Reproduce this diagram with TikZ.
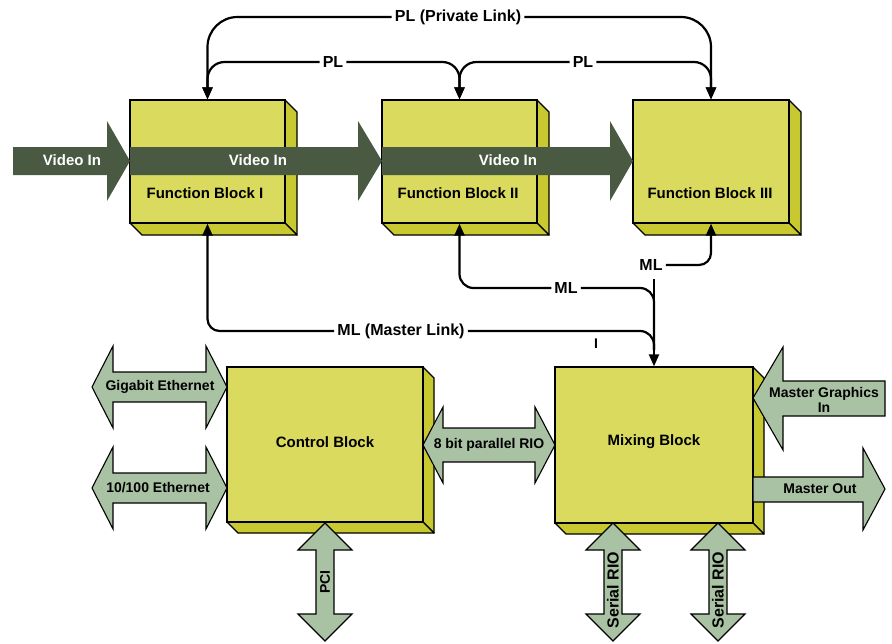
\documentclass[tikz,border=0pt]{standalone}
\usepackage{fontspec}
\setmainfont{Liberation Sans}
\usetikzlibrary{arrows.meta}

\definecolor{facecol}{HTML}{DADA5E}
\definecolor{sidecol}{HTML}{C8C830}
\definecolor{lgreen}{HTML}{AAC2A4}
\definecolor{dgreen}{HTML}{4A5A42}

\tikzset{
  blockface/.style={draw=black, line width=1.3pt, fill=facecol, inner sep=0pt},
  blockside/.style={draw=black, line width=1.3pt, fill=sidecol, line join=round},
  conn/.style={draw=black, line width=2.2pt},
  tip/.style={-{Triangle[length=12pt,width=10pt]}},
  linklbl/.style={font=\fontsize{16}{18}\selectfont\bfseries, inner sep=3pt},
  blocklbl/.style={font=\fontsize{15}{17}\selectfont\bfseries},
  portlbl/.style={font=\fontsize{14}{15}\selectfont\bfseries, align=center},
  riolbl/.style={font=\fontsize{16}{16}\selectfont\bfseries, rotate=90},
  biglink/.style={fill=lgreen, draw=black, line width=1.1pt, line join=miter},
  vidlink/.style={fill=dgreen},
  vidlbl/.style={font=\fontsize{15}{17}\selectfont\bfseries, text=white},
}

% 3-D block: name, x1, y1, x2, y2, depth
\newcommand{\blockbox}[6]{%
  \draw[blockside] (#4,#3) -- ({#4+#6},{#3+#6}) -- ({#4+#6},{#5+#6}) -- (#4,#5) -- cycle;
  \draw[blockside] (#2,#5) -- (#4,#5) -- ({#4+#6},{#5+#6}) -- ({#2+#6},{#5+#6}) -- cycle;
  \node[blockface, minimum width={#4-#2}, minimum height={#5-#3}] (#1)
    at ({(#2+#4)/2},{(#3+#5)/2}) {};
}

% horizontal double arrow: x1, x2, yc, shaft half, head half, head length
\newcommand{\hdouble}[6]{%
  \draw[biglink] (#1,#3) -- ({#1+#6},{#3-#5}) -- ({#1+#6},{#3-#4}) -- ({#2-#6},{#3-#4})
    -- ({#2-#6},{#3-#5}) -- (#2,#3) -- ({#2-#6},{#3+#5}) -- ({#2-#6},{#3+#4})
    -- ({#1+#6},{#3+#4}) -- ({#1+#6},{#3+#5}) -- cycle;
}

% vertical double arrow: y1, y2, xc, shaft half, head half, head length
\newcommand{\vdouble}[6]{%
  \draw[biglink] (#3,#1) -- ({#3+#5},{#1+#6}) -- ({#3+#4},{#1+#6}) -- ({#3+#4},{#2-#6})
    -- ({#3+#5},{#2-#6}) -- (#3,#2) -- ({#3-#5},{#2-#6}) -- ({#3-#4},{#2-#6})
    -- ({#3-#4},{#1+#6}) -- ({#3-#5},{#1+#6}) -- cycle;
}

% video stream arrow: x1, tip x, yc, shaft half, head half, head length
\newcommand{\vidarrow}[6]{%
  \fill[vidlink] (#1,{#3-#4}) -- ({#2-#6},{#3-#4}) -- ({#2-#6},{#3-#5}) -- (#2,#3)
    -- ({#2-#6},{#3+#5}) -- ({#2-#6},{#3+#4}) -- (#1,{#3+#4}) -- cycle;
}

\begin{document}
\begin{tikzpicture}[x=1pt, y=-1pt]
\useasboundingbox (0,0) rectangle (892,643);

% ---- function blocks ----
\blockbox{fb1}{130}{100}{285}{223}{12}
\blockbox{fb2}{382}{100}{537}{223}{12}
\blockbox{fb3}{633}{100}{789}{223}{12}

% ---- video stream ----
\vidarrow{13}{130}{161}{14}{40}{23}
\vidarrow{130}{382}{161}{14}{40}{24}
\vidarrow{382}{633}{161}{14}{40}{23}
\node[vidlbl] (v0) at (72,160) {Video In};
\node[vidlbl] (v1) at (258,160) {Video In};
\node[vidlbl] (v2) at (508,160) {Video In};

\node[blocklbl] (fb1l) at (205,193) {Function Block I};
\node[blocklbl] (fb2l) at (458,193) {Function Block II};
\node[blocklbl] (fb3l) at (710,193) {Function Block III};

% ---- lower blocks ----
\blockbox{ctrl}{227}{367}{423}{522}{11}
\blockbox{mix}{555}{367}{753}{523}{11}
\node[blocklbl] (ctrll) at (325,442) {Control Block};
\node[blocklbl] (mixl) at (654,442) {Mixing Block};

% ---- private links ----
\node[linklbl] (plmain) at (458,17) {PL (Private Link)};
\node[linklbl] (pla) at (333,62) {PL};
\node[linklbl] (plb) at (583,62) {PL};
\draw[conn, tip, rounded corners=30] (plmain.west) -| (fb1.north);
\draw[conn, tip, rounded corners=30] (plmain.east) -| (fb3.north);
\draw[conn, tip, rounded corners=17] (pla.west) -| (fb1.north);
\draw[conn, tip, rounded corners=17] (pla.east) -| (fb2.north);
\draw[conn, tip, rounded corners=17] (plb.west) -| (fb2.north);
\draw[conn, tip, rounded corners=17] (plb.east) -| (fb3.north);

% ---- master links ----
\node[linklbl] (mlc) at (651,265) {ML};
\node[linklbl] (mlb) at (566,288) {ML};
\node[linklbl] (mla) at (401,331) {ML (Master Link)};
\coordinate (mltop) at (654,279);
\coordinate (mljoin) at (654,350);
\draw[conn, tip, rounded corners=12] (mlc.east) -| (fb3.south);
\draw[conn, tip, rounded corners=14] (mlb.west) -| (fb2.south);
\draw[conn, rounded corners=14] (mlb.east) -| (mljoin);
\draw[conn, tip, rounded corners=12] (mla.west) -| (fb1.south);
\draw[conn, rounded corners=14] (mla.east) -| (mljoin);
\draw[conn, tip] (mltop) -- (mix.north);
\node[portlbl] (mark) at (596,344) {I};

% ---- control block ports ----
\hdouble{92}{227}{387}{15}{41}{21}
\node[portlbl] (gbe) at (160,387) {Gigabit Ethernet};
\hdouble{92}{227}{488}{15}{41}{21}
\node[portlbl] (fe) at (158,488) {10/100 Ethernet};
\hdouble{423}{555}{445}{17}{38}{20}
\node[portlbl] (prio) at (489,445) {8 bit parallel RIO};
\vdouble{523}{641}{325}{9}{27}{27}
\node[portlbl, rotate=90] (pci) at (325,582) {PCI};

% ---- mixing block ports ----
\draw[biglink] (753,398) -- (783,347) -- (783,381) -- (885,381) -- (885,416)
  -- (783,416) -- (783,450) -- cycle;
\node[portlbl] (mgi) at (824,400) {Master Graphics\\In};
\draw[biglink] (753,477) -- (863,477) -- (863,448) -- (885,489) -- (863,530)
  -- (863,502) -- (753,502) -- cycle;
\node[portlbl] (mout) at (820,489) {Master Out};
\vdouble{523}{641}{613}{9}{27}{27}
\node[riolbl] (srio1) at (613,590) {Serial RIO};
\vdouble{523}{641}{718}{9}{27}{27}
\node[riolbl] (srio2) at (718,590) {Serial RIO};

\end{tikzpicture}
\end{document}
